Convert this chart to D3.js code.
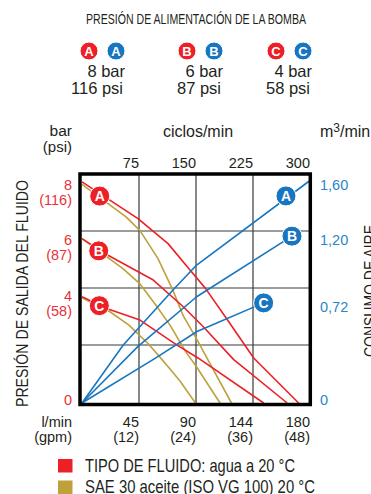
<!DOCTYPE html>
<html>
<head>
<meta charset="utf-8">
<script src="https://cdn.jsdelivr.net/npm/d3@7"></script>
<style>
  html, body { margin: 0; padding: 0; background: #fff; }
  svg { display: block; }
  text { font-family: "Liberation Sans", Arial, sans-serif; fill: #231f20; }
</style>
</head>
<body>
<script>
// ---------------- DATA ----------------
const supplyLetters = ["A", "B", "C"];
const supplyBar = ["8 bar", "6 bar", "4 bar"];
const supplyPsi = ["116 psi", "87 psi", "58 psi"];

const cycleTicks = [75, 150, 225, 300];
const lpmLabels = ["45", "90", "144", "180"];
const gpmLabels = ["(12)", "(24)", "(36)", "(48)"];

const barTicks = [8, 6, 4, 0];
const psiLabels = ["(116)", "(87)", "(58)", ""];
const airTicks = [1.6, 1.2, 0.72, 0];
const airLabels = ["1,60", "1,20", "0,72", "0"];

// fluid outlet pressure (bar) vs cycles/min — water (red)
const waterA = [[0, 7.95], [73.7, 6.63], [113.2, 5.73], [142.1, 4.78], [162.2, 4.13], [194.7, 2.86], [225.9, 1.62], [285, 0]];
const waterB = [[0, 5.91], [34.2, 5.31], [93.8, 4.42], [133.3, 3.46], [159.6, 2.74], [199.6, 1.56], [270, 0]];
const waterC = [[0, 3.82], [34.2, 3.38], [76.3, 2.98], [124.6, 2.09], [152.6, 1.62], [239, 0]];
// SAE 30 oil (gold)
const oilA = [[0, 7.86], [57.9, 6.69], [76.3, 6.20], [100, 5.19], [119.7, 4.05], [133.3, 3.13], [150, 2.34], [196.7, 0]];
const oilB = [[0, 5.91], [53.9, 4.83], [76.3, 4.28], [96.1, 3.56], [115.8, 2.80], [136.8, 1.83], [150, 1.33], [181.6, 0]];
const oilC = [[0, 3.78], [36.8, 3.28], [61.8, 2.80], [86.8, 2.14], [100, 1.73], [115.8, 1.22], [128.9, 0.79], [149.3, 0]];
// air consumption (m3/min) vs cycles/min (blue)
const airA = [[0, 0], [54.3, 0.417], [119.7, 0.813], [150.9, 0.992], [300, 1.6]];
const airB = [[0, 0], [73.4, 0.405], [150.9, 0.764], [276.3, 1.2]];
const airC = [[0, 0], [96.1, 0.321], [151.3, 0.514], [239, 0.72]];

// badge anchor points on the curves
const redBadges = [[23.3, 7.44], [22, 5.47], [22.8, 3.5]];
const blueBadges = [[268.4, 1.489], [276.3, 1.2], [239, 0.72]];

const legendLabels = ["TIPO DE FLUIDO: agua a 20 °C", "SAE 30 aceite (ISO VG 100) 20 °C"];

// ---------------- STYLE ----------------
const RED = "#ed1f27", BLUE = "#1776bf", GOLD = "#bfa13c";
const RED_TXT = "#e8313a", BLUE_TXT = "#2a86c9";

const W = 371, H = 494;
const svg = d3.select("body").append("svg").attr("width", W).attr("height", H);

const x = d3.scaleLinear().domain([0, 300]).range([82, 310]);
const yBar = d3.scaleLinear().domain([0, 8]).range([403, 180.5]);
const yAir = d3.scaleLinear().domain([0, 1.6]).range([403, 180.5]);
const gridY = d3.scaleLinear().domain([0, 4]).range([402, 174]);

// ---------------- HEADER ----------------
svg.append("text").attr("x", 196).attr("y", 24).attr("text-anchor", "middle")
  .style("font-size", "15px").attr("textLength", 220).attr("lengthAdjust", "spacingAndGlyphs")
  .text("PRESIÓN DE ALIMENTACIÓN DE LA BOMBA");

const groupX = [89, 187, 276];
function badge(g, cx, cy, r, color, letter, fs) {
  g.append("circle").attr("cx", cx).attr("cy", cy).attr("r", r)
    .attr("fill", color).attr("stroke", "#fff").attr("stroke-width", 1);
  g.append("text").attr("x", cx).attr("y", cy).attr("dy", "0.36em")
    .attr("text-anchor", "middle").style("font-size", fs + "px").style("font-weight", "bold")
    .style("fill", "#fff").text(letter);
}
const head = svg.append("g");
supplyLetters.forEach((L, i) => {
  const rx = groupX[i], bx = rx + 27;
  badge(head, rx, 51, 9, RED, L, 13);
  badge(head, bx, 51, 9, BLUE, L, 13);
  head.append("text").attr("x", bx + 9).attr("y", 77).attr("text-anchor", "end")
    .style("font-size", "16.5px").text(supplyBar[i]);
  head.append("text").attr("x", bx + 7).attr("y", 94).attr("text-anchor", "end")
    .style("font-size", "16.5px").text(supplyPsi[i]);
});

// ---------------- AXIS TITLES ----------------
svg.append("text").attr("x", 72).attr("y", 136).attr("text-anchor", "end").style("font-size", "15.5px").text("bar");
svg.append("text").attr("x", 72).attr("y", 151.5).attr("text-anchor", "end").style("font-size", "15px").text("(psi)");
svg.append("text").attr("x", 198).attr("y", 136.5).attr("text-anchor", "middle").style("font-size", "16px").text("ciclos/min");
const m3 = svg.append("text").attr("x", 320).attr("y", 136.5).style("font-size", "16px");
m3.append("tspan").text("m");
m3.append("tspan").attr("dy", -5).style("font-size", "12px").text("3");
m3.append("tspan").attr("dy", 5).text("/min");

svg.append("text").attr("transform", "translate(28,293.5) rotate(-90)").attr("text-anchor", "middle")
  .style("font-size", "17px").attr("textLength", 227).attr("lengthAdjust", "spacingAndGlyphs")
  .text("PRESIÓN DE SALIDA DEL FLUIDO");
svg.append("text").attr("transform", "translate(376,291) rotate(-90)").attr("text-anchor", "middle")
  .style("font-size", "17px").attr("textLength", 132).attr("lengthAdjust", "spacingAndGlyphs")
  .text("CONSUMO DE AIRE");

// ---------------- TICKS ----------------
cycleTicks.forEach((v, i) => {
  svg.append("text").attr("x", x(v)).attr("y", 167.5).attr("text-anchor", "end")
    .style("font-size", "14.5px").text(v);
  svg.append("text").attr("x", x(v)).attr("y", 427).attr("text-anchor", "end")
    .style("font-size", "14.5px").text(lpmLabels[i]);
  svg.append("text").attr("x", x(v)).attr("y", 442).attr("text-anchor", "end")
    .style("font-size", "14.5px").text(gpmLabels[i]);
});
svg.append("text").attr("x", 72).attr("y", 427).attr("text-anchor", "end").style("font-size", "14.5px").text("l/min");
svg.append("text").attr("x", 72).attr("y", 442).attr("text-anchor", "end").style("font-size", "14.5px").text("(gpm)");

barTicks.forEach((v, i) => {
  const base = v === 0 ? yBar(v) + 2 : yBar(v) + 9;
  svg.append("text").attr("x", 72).attr("y", base).attr("text-anchor", "end")
    .style("font-size", "14.5px").style("fill", RED_TXT).text(v);
  if (psiLabels[i]) svg.append("text").attr("x", 72).attr("y", base + 15).attr("text-anchor", "end")
    .style("font-size", "14.5px").style("fill", RED_TXT).text(psiLabels[i]);
});
airTicks.forEach((v, i) => {
  const base = v === 0 ? yAir(v) + 2 : yAir(v) + 9;
  svg.append("text").attr("x", 320).attr("y", base)
    .style("font-size", "14.5px").style("fill", BLUE_TXT).text(airLabels[i]);
});

// ---------------- GRID ----------------
const grid = svg.append("g").attr("stroke", "#3a3a3a").attr("stroke-width", 1.2);
cycleTicks.slice(0, 3).forEach(v => grid.append("line")
  .attr("x1", x(v)).attr("x2", x(v)).attr("y1", 174).attr("y2", 404));
[1, 2, 3].forEach(k => grid.append("line")
  .attr("x1", 80).attr("x2", 310).attr("y1", gridY(k)).attr("y2", gridY(k)));

// ---------------- CURVES ----------------
const lineBar = d3.line().x(d => x(d[0])).y(d => yBar(d[1]));
const lineAir = d3.line().x(d => x(d[0])).y(d => yAir(d[1]));
const curves = svg.append("g").attr("fill", "none").attr("stroke-width", 1.6).attr("stroke-linejoin", "round");
[oilA, oilB, oilC].forEach(s => curves.append("path").attr("d", lineBar(s)).attr("stroke", GOLD));
[waterA, waterB, waterC].forEach(s => curves.append("path").attr("d", lineBar(s)).attr("stroke", RED));
[airA, airB, airC].forEach(s => curves.append("path").attr("d", lineAir(s)).attr("stroke", BLUE));

const badges = svg.append("g");
redBadges.forEach((p, i) => badge(badges, x(p[0]), yBar(p[1]), 10, RED, supplyLetters[i], 14));
blueBadges.forEach((p, i) => badge(badges, x(p[0]), yAir(p[1]), 10, BLUE, supplyLetters[i], 14));

// ---------------- FRAME ----------------
svg.append("rect").attr("x", 80).attr("y", 174).attr("width", 230.3).attr("height", 230.5)
  .attr("fill", "none").attr("stroke", "#000").attr("stroke-width", 3.5);

// ---------------- LEGEND ----------------
const legColors = [RED, GOLD];
const legWidths = [210, 230];
legendLabels.forEach((t, i) => {
  const yy = 459 + i * 21.5;
  svg.append("rect").attr("x", 58).attr("y", yy).attr("width", 14.5).attr("height", 13.5).attr("fill", legColors[i]);
  svg.append("text").attr("x", 85).attr("y", yy + 12.5).style("font-size", "18.5px")
    .attr("textLength", legWidths[i]).attr("lengthAdjust", "spacingAndGlyphs").text(t);
});
</script>
</body>
</html>
